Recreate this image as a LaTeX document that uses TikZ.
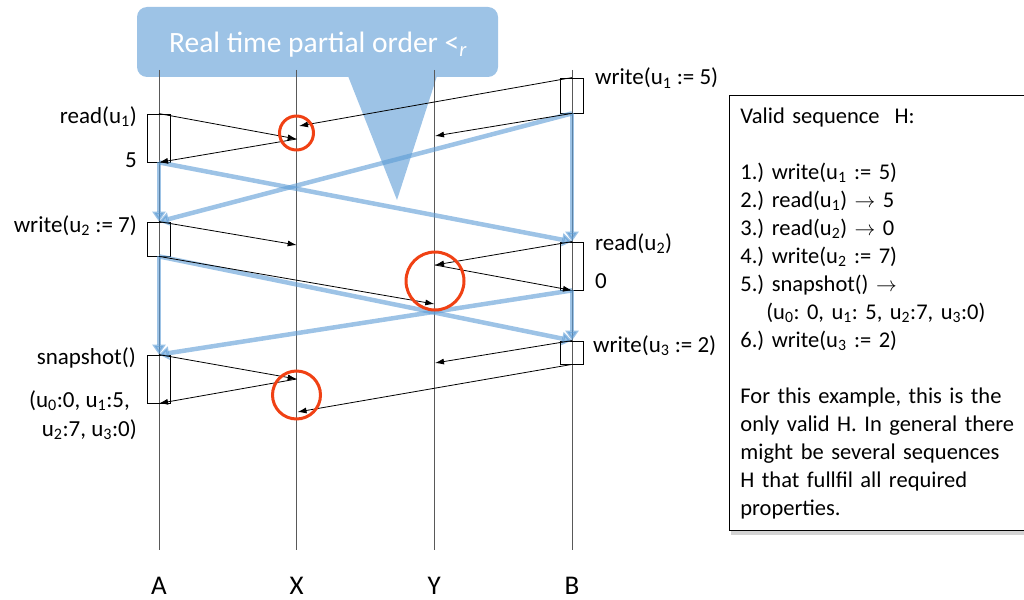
\documentclass[tikz,border=0pt]{standalone}
\usepackage{fontspec}
\setmainfont{Carlito}
\usetikzlibrary{arrows.meta,shadows}
\definecolor{calloutblue}{RGB}{157,195,230}
\definecolor{orderblue}{RGB}{91,155,213}
\definecolor{ringred}{RGB}{240,65,20}
\frenchspacing
\tikzset{
  lifeline/.style={line width=1pt, black!65},
  opbox/.style={draw, line width=0.8pt, minimum width=23pt, inner sep=0pt},
  msg/.style={->, line width=0.8pt},
  order/.style={-{Triangle[length=10pt,width=13pt]}, line width=4.5pt, draw=orderblue, opacity=.6},
  ring/.style={circle, draw=ringred, line width=3pt, inner sep=0pt},
  lbl/.style={inner sep=0pt, font=\fontsize{23}{28}\selectfont},
}
\begin{document}
\begin{tikzpicture}[x=1pt, y=-1pt, >={Latex[length=9pt,width=6pt]}]
  \useasboundingbox (0,0) rectangle (1024,599);

  \fill[calloutblue, rounded corners=10pt] (137,7) rectangle (498,77);
  \fill[calloutblue] (348,76) -- (437,76) -- (397,200) -- cycle;
  \node[text=white, font=\fontsize{29.5}{34}\selectfont, anchor=base] (title) at (318,53) {Real time partial order <\textsubscript{\itshape r}};

  \foreach \n/\x in {A/159, X/296.7, Y/434.3, B/572} {
    \coordinate (\n top) at (\x,70);
    \coordinate (\n bot) at (\x,550);
    \draw[lifeline] (\n top) -- (\n bot);
    \node[font=\fontsize{27}{32}\selectfont, anchor=base] (\n) at (\x,594) {\n};
  }

  \node[opbox, minimum height=48pt] (rdA) at (159,138) {};
  \node[opbox, minimum height=34pt] (wrA) at (159,239) {};
  \node[opbox, minimum height=48pt] (snA) at (159,379) {};
  \node[opbox, minimum height=35pt] (wrB1) at (572,95.5) {};
  \node[opbox, minimum height=48pt] (rdB) at (572,266) {};
  \node[opbox, minimum height=23pt] (wrB3) at (572,352.5) {};

  \coordinate (x1) at (296.7,139);
  \coordinate (x2) at (299,126);
  \coordinate (y1) at (435,136);
  \coordinate (x3) at (296.7,245);
  \coordinate (y2) at (434.3,304);
  \coordinate (y3) at (435,265);
  \coordinate (x4) at (296.7,379);
  \coordinate (y4) at (435,363);
  \coordinate (x5) at (297.5,412);

  % real time order
  \draw[order] (rdA.south) -- (wrA.north);
  \draw[order] (wrA.south) -- (snA.north);
  \draw[order] (wrB1.south) -- (rdB.north);
  \draw[order] (rdB.south) -- (wrB3.north);
  \draw[order] (rdA.south) -- (rdB.north);
  \draw[order] (wrB1.south) -- (wrA.north);
  \draw[order] (wrA.south) -- (wrB3.north);
  \draw[order] (rdB.south) -- (snA.north);

  \draw[msg] (rdA.north) -- (x1);
  \draw[msg] (x1) -- (rdA.south);
  \draw[msg] (wrB1.north) -- (x2);
  \draw[msg] (wrB1.south) -- (y1);
  \draw[msg] (wrA.north) -- (x3);
  \draw[msg] (wrA.south) -- (y2);
  \draw[msg] (rdB.north) -- (y3);
  \draw[msg] (y3) -- (rdB.south);
  \draw[msg] (snA.north) -- (x4);
  \draw[msg] (x4) -- (snA.south);
  \draw[msg] (wrB3.north) -- (y4);
  \draw[msg] (wrB3.south) -- (x5);

  \node[ring, minimum size=34pt] (ring1) at (296.5,133) {};
  \node[ring, minimum size=58pt] (ring2) at (435,281) {};
  \node[ring, minimum size=48pt] (ring3) at (296.5,395) {};

  \node[lbl, anchor=base east] (lrdA) at (137,123) {read(u\textsubscript{1})};
  \node[lbl, anchor=base east] (lvalA) at (137,167) {5};
  \node[lbl, anchor=base east] (lwrA) at (137,232) {write(u\textsubscript{2} := 7)};
  \node[lbl, anchor=base east] (lsnA) at (136,364) {snapshot()};
  \node[lbl, anchor=base east] (lresA1) at (130,407) {(u\textsubscript{0}:0, u\textsubscript{1}:5,};
  \node[lbl, anchor=base east] (lresA2) at (137,436) {u\textsubscript{2}:7, u\textsubscript{3}:0)};
  \node[lbl, anchor=base west] (lwrB1) at (595,85) {write(u\textsubscript{1} := 5)};
  \node[lbl, anchor=base west] (lrdB) at (595,250) {read(u\textsubscript{2})};
  \node[lbl, anchor=base west] (lvalB) at (595,288) {0};
  \node[lbl, anchor=base west] (lwrB3) at (593,352) {write(u\textsubscript{3} := 2)};

  \node[draw, line width=0.8pt, fill=white, drop shadow={shadow xshift=2pt, shadow yshift=-4pt, opacity=.35},
        anchor=north west, text width=320pt, inner xsep=11pt, inner ysep=12pt, align=left,
        font=\fontsize{22.5}{28}\selectfont] (seq) at (729,95) {%
    Valid sequence~ H:\\[28pt]
    1.) write(u\textsubscript{1} := 5)\\
    2.) read(u\textsubscript{1}) $\rightarrow$ 5\\
    3.) read(u\textsubscript{2}) $\rightarrow$ 0\\
    4.) write(u\textsubscript{2} := 7)\\
    5.) snapshot() $\rightarrow$\\
    \hspace*{26pt}(u\textsubscript{0}: 0, u\textsubscript{1}: 5, u\textsubscript{2}:7, u\textsubscript{3}:0)\\
    6.) write(u\textsubscript{3} := 2)\\[28pt]
    For this example, this is the\\
    only valid H. In general there\\
    might be several sequences\\
    H that fullfil all required\\
    properties.};
\end{tikzpicture}
\end{document}
